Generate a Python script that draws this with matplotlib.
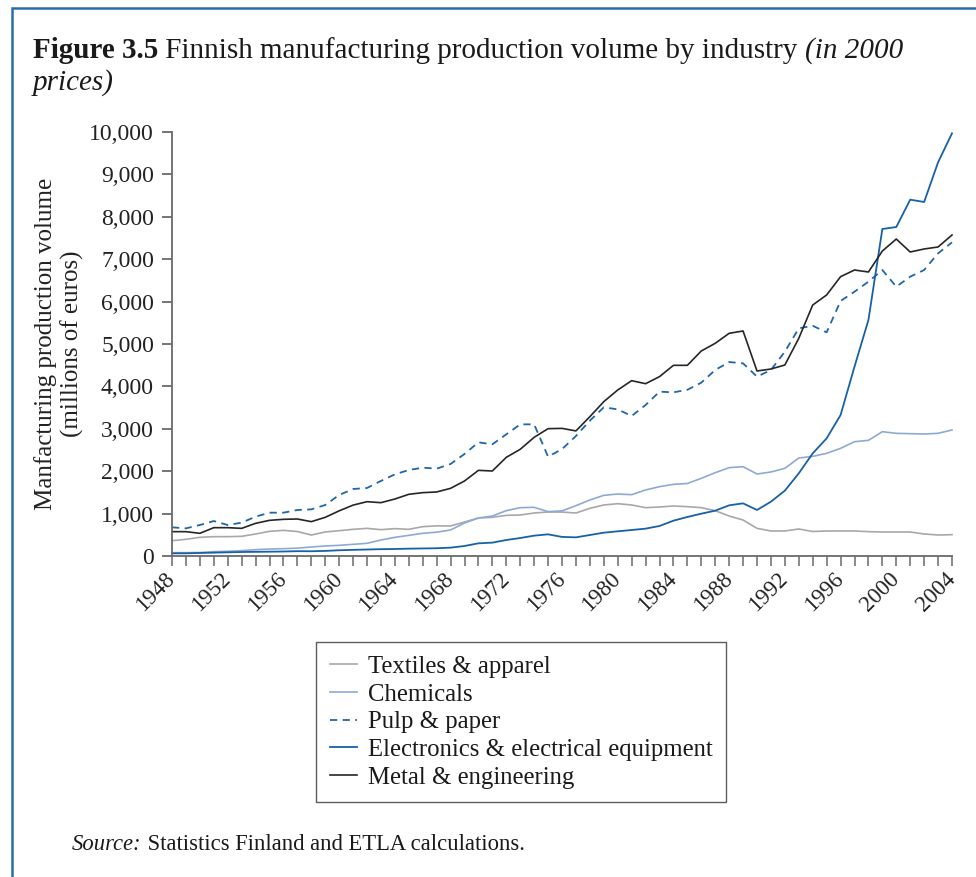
import matplotlib
matplotlib.use('Agg')
import matplotlib.pyplot as plt
from matplotlib.patches import Rectangle
from matplotlib.lines import Line2D

plt.rcParams['font.family'] = ['Liberation Serif', 'DejaVu Serif']

years = list(range(1948, 2005))

textiles = [361, 393, 440, 456, 456, 464, 519, 582, 605, 577, 495, 566, 597, 629, 652, 621,
            645, 629, 692, 711, 708, 802, 896, 912, 959, 967, 1014, 1038, 1036,
            1014, 1124, 1203, 1234, 1203, 1140, 1156, 1179, 1164, 1140, 1069, 943, 849, 652,
            590, 590, 637, 578, 590, 590, 590, 574, 566, 566, 566, 519, 495, 503]
chemicals = [79, 79, 82, 102, 110, 126, 149, 165, 173, 185, 212, 236, 252, 275, 299, 377,
             440, 487, 535, 562, 613, 778, 896, 943, 1069, 1140, 1148, 1046, 1065,
             1187, 1321, 1431, 1462, 1446, 1557, 1635, 1690, 1710, 1832, 1965, 2084, 2107, 1934,
             1981, 2068, 2311, 2350, 2421, 2539, 2696, 2728, 2932, 2893, 2885, 2877, 2893, 2972]
pulp_paper = [676, 652, 731, 825, 731, 786, 928, 1022, 1022, 1085, 1100, 1203, 1439, 1580, 1604, 1770,
              1926, 2028, 2083, 2060, 2170, 2406, 2681, 2634, 2869, 3105, 3105, 2343, 2520,
              2830, 3192, 3506, 3459, 3302, 3561, 3876, 3860, 3920, 4088, 4387, 4575, 4544, 4230,
              4387, 4819, 5370, 5430, 5275, 6014, 6234, 6470, 6745, 6352, 6588, 6745, 7138, 7398]
electronics = [63, 63, 71, 79, 87, 94, 98, 102, 106, 114, 112, 120, 135, 145, 153, 161,
               165, 173, 178, 183, 197, 236, 299, 315, 377, 424, 480, 511, 450,
               440, 495, 550, 582, 613, 645, 708, 833, 920, 998, 1069, 1195, 1242, 1085,
               1281, 1541, 1950, 2420, 2775, 3325, 4465, 5566, 7712, 7759, 8404, 8349, 9285, 9969]
metal = [574, 574, 535, 668, 668, 652, 770, 841, 865, 873, 810, 912, 1065, 1200, 1281, 1258,
         1344, 1455, 1494, 1510, 1596, 1769, 2020, 2005, 2327, 2516, 2799, 3003, 3010,
         2950, 3286, 3640, 3915, 4135, 4064, 4230, 4497, 4497, 4835, 5016, 5252, 5307, 4363,
         4410, 4505, 5134, 5920, 6156, 6588, 6745, 6698, 7193, 7476, 7170, 7241, 7288, 7571]

series_names = ['Textiles & apparel', 'Chemicals', 'Pulp & paper',
                'Electronics & electrical equipment', 'Metal & engineering']
y_ticks = [0, 1000, 2000, 3000, 4000, 5000, 6000, 7000, 8000, 9000, 10000]
label_years = [1948, 1952, 1956, 1960, 1964, 1968, 1972, 1976, 1980, 1984, 1988, 1992, 1996, 2000, 2004]

W, H = 976, 877
fig = plt.figure(figsize=(W / 100, H / 100), dpi=100)
fig.patch.set_facecolor('white')

# outer frame
fig.patches.append(Rectangle((12 / W, -0.05), 1.1, 1 - 8 / H + 0.05, transform=fig.transFigure,
                             fill=False, edgecolor='#2b6cb0', linewidth=1.8))

ax = fig.add_axes([172 / W, 1 - 556 / H, (952 - 172) / W, (556 - 132) / H])

styles = [
    dict(color='#a8a8a8', lw=1.2, ls='-'),
    dict(color='#8fa9d6', lw=1.2, ls='-'),
    dict(color='#1f66ad', lw=1.3, ls=(0, (4, 3))),
    dict(color='#1761a8', lw=1.3, ls='-'),
    dict(color='#262626', lw=1.2, ls='-'),
]
data = [textiles, chemicals, pulp_paper, electronics, metal]
for vals, st, name in zip(data, styles, series_names):
    ax.plot(years, vals, label=name, clip_on=False, **st)

ax.set_xlim(1948, 2004)
ax.set_ylim(0, 10000)
for s in ['top', 'right']:
    ax.spines[s].set_visible(False)
for s in ['left', 'bottom']:
    ax.spines[s].set_color('#6a6a6a')
    ax.spines[s].set_linewidth(1.3)

ax.set_yticks(y_ticks)
ax.set_yticklabels([f'{v:,}' for v in y_ticks], fontsize=17, color='#222222')
ax.set_xticks(years)
ax.set_xticklabels([str(y) if y in label_years else '' for y in years], fontsize=16.5,
                   rotation=45, ha='right', va='center', rotation_mode='anchor', color='#222222')
ax.tick_params(axis='y', direction='out', length=7, width=1.3, color='#6a6a6a', pad=6)
ax.tick_params(axis='x', direction='out', length=7, width=1.1, color='#6a6a6a', pad=7)

ax.set_ylabel('Manfacturing production volume\n(millions of euros)', fontsize=18,
              color='#222222', linespacing=1.2, labelpad=4)

# legend
handles = [Line2D([], [], **st) for st in styles]
leg = fig.legend(handles, series_names, loc='upper left',
                 bbox_to_anchor=(316 / W, 1 - 642 / H), bbox_transform=fig.transFigure,
                 borderaxespad=0, fontsize=17.8, frameon=True, fancybox=False,
                 edgecolor='#333333', handlelength=1.1, handletextpad=0.45,
                 labelspacing=0.22, borderpad=0.55)
leg.get_frame().set_linewidth(1.0)
for t in leg.get_texts():
    t.set_color('#1a1a1a')

# title pieces
renderer = fig.canvas.get_renderer()

def seq_text(x_px, y_px, pieces, size):
    x = x_px
    for txt, kw in pieces:
        t = fig.text(x / W, 1 - y_px / H, txt, fontsize=size, va='baseline', ha='left',
                     color='#1a1a1a', **kw)
        bb = t.get_window_extent(renderer)
        x = bb.x1
    return x

seq_text(33, 58, [('Figure 3.5', dict(fontweight='bold')),
                  (' Finnish manufacturing production volume by industry ', {}),
                  ('(in 2000', dict(fontstyle='italic'))], 21)
seq_text(33, 90, [('prices)', dict(fontstyle='italic'))], 21)

seq_text(72, 850, [('Source:', dict(fontstyle='italic')),
                   (' Statistics Finland and ETLA calculations.', {})], 16.3)

fig.savefig('out.png', dpi=100, facecolor='white')
